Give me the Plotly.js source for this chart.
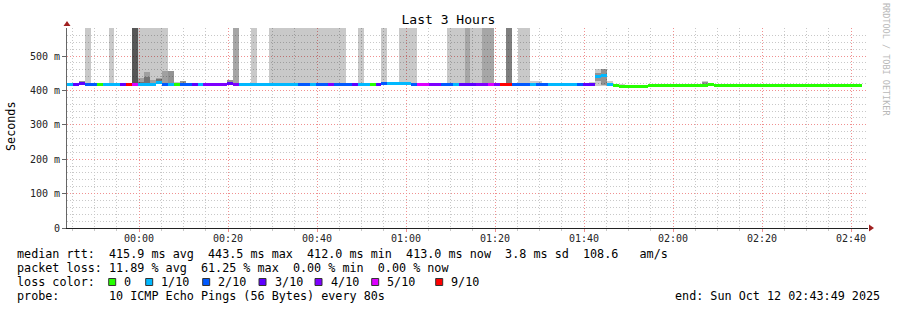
<!DOCTYPE html>
<html><head><meta charset="utf-8">
<script src="https://cdn.plot.ly/plotly-3.0.1.min.js"></script>
<style>html,body{margin:0;padding:0;background:#fff}#chart{width:897px;height:310px}</style>
</head><body><div id="chart"></div>
<script>
// ---------------- DATA ----------------
const chartTitle = 'Last 3 Hours';
const yTitle = 'Seconds';
const watermark = 'RRDTOOL / TOBI OETIKER';
const rangeStart = '2025-10-11 23:43:49';
const rangeEnd = '2025-10-12 02:43:49';
const startMs = Date.UTC(2025, 9, 11, 23, 43, 49);
const stepSec = 80;

// median rtt per 80 s sample, in ms
const median = [
  418,418,421,418,418,418,418,418,418,418,
  418,418,418,418,418,424,418,418,418,418,
  418,418,418,418,418,418,418,421,418,418,
  418,418,418,418,418,418,418,418,418,418,
  418,418,418,418,418,418,418,418,418,418,
  418,418,418,419,419,419,419,419,418,418,
  418,418,418,418,418,418,418,418,418,418,
  418,418,418,418,418,418,418,418,418,418,
  418,418,418,418,418,418,416,416,416,441,
  443.5,418,414,412,412,412,412,412,413,413,
  413,413,413,413,413,413,413,414,416,413,
  413,413,413,413,413,413,413,413,413,413,
  413,413,413,413,413,413,413,413,413,413,
  413,413,413,413
];
// lost pings (out of 10) per sample
const lossCount = [
  1,3,3,2,2,0,1,1,1,3,
  9,5,1,1,1,1,2,1,0,2,
  2,3,1,4,4,4,4,3,4,1,
  1,1,1,1,1,1,1,1,1,2,
  2,1,2,2,4,2,2,2,3,1,
  1,0,3,2,1,1,1,1,2,5,
  5,4,4,2,2,1,3,3,3,4,
  4,5,4,9,9,2,2,2,1,2,
  2,1,1,1,1,1,2,3,3,1,
  1,1,0,0,0,0,0,0,0,0,
  0,0,0,0,0,0,0,0,0,0,
  0,0,0,0,0,0,0,0,0,0,
  0,0,0,0,0,0,0,0,0,0,
  0,0,0,0
];
// unreachable-ping smoke (full height) density per sample: 0 none .. 4 darkest
const fullSmoke = [
  0,0,0,1,0,0,0,1,0,0,
  0,4,1,1,1,1,1,0,0,0,
  0,0,0,0,0,0,0,0,2,0,
  0,1,0,0,1,1,1,1,1,1,
  1,1,1,1,1,1,1,0,0,1,
  0,0,0,1,0,0,1,1,1,0,
  0,0,0,0,1,1,1,2,1,1,
  2,2,0,0,3,0,1,1,0,0,
  0,0,0,0,0,0,0,0,0,0,
  0,0,0,0,0,0,0,0,0,0,
  0,0,0,0,0,0,0,0,0,0,
  0,0,0,0,0,0,0,0,0,0,
  0,0,0,0,0,0,0,0,0,0,
  0,0,0,0
];
// ping spread (smoke) around the median, for samples that have it
const smokeSample = [2,12,13,14,15,16,17,18,19,26,27,78,79,88,89,90,91,92,93,107,108];
const smokeLow    = [421,418,418,418,424,418,418,418,418,418,421,418,418,416,414,414,418,414,412,414,416];
const smokeHigh   = [428,437,454,430,436,457,457,424,428,422,430,428,428,424,461,463,428,420,418,428,420];
const coreLow     = [421,418,418,null,424,null,418,null,418,null,421,null,null,null,428,416,null,null,null,414,null];
const coreHigh    = [428,425,440,null,432,null,457,null,428,null,430,null,null,null,452,463,null,null,null,424,null];

const yTickVals = [0,100,200,300,400,500];
const yTickText = ['0','100 m','200 m','300 m','400 m','500 m'];

const lossKeys   = [0,1,2,3,4,5,9];
const lossLabels = ['0','1/10','2/10','3/10','4/10','5/10','9/10'];
const lossColors = ['#26ff00','#00b8ff','#0059ff','#5e00ff','#7e00ff','#dd00ff','#ff0000'];

const statsMedian = 'median rtt:  415.9 ms avg  443.5 ms max  412.0 ms min  413.0 ms now  3.8 ms sd  108.6   am/s';
const statsLoss   = 'packet loss: 11.89 % avg  61.25 % max  0.00 % min  0.00 % now';
const lossTitle   = 'loss color:';
const probeLine   = 'probe:       10 ICMP Echo Pings (56 Bytes) every 80s';
const endLine     = 'end: Sun Oct 12 02:43:49 2025';

// ---------------- LAYOUT CONSTANTS ----------------
const W = 897, H = 310;
const ML = 67, MR = 29, MT = 28, MB = 82;
const PW = W - ML - MR, PH = H - MT - MB;
const yMax = 581.4;
const FONT = 'DejaVu Sans Mono, monospace';
const px2x = px => (px - ML) / PW;
const py2y = py => (MT + PH - py) / PH;
const msPerPx = yMax / PH;
const halfLine = 1.5 * msPerPx;

const stepMs = stepSec * 1000;
const xs = median.map((_, k) => startMs + (k + 0.5) * stepMs);

function lossColor(l) {
  let c = lossColors[0];
  lossKeys.forEach((key, i) => { if (l >= key) c = lossColors[i]; });
  return c;
}
const fullAlpha = [0, 0.21, 0.35, 0.5, 0.66];

const traces = [];
// full-height smoke
traces.push({
  type: 'bar', x: xs, width: xs.map(() => stepMs),
  base: median.map((m, k) => fullSmoke[k] ? m + halfLine : null),
  y: median.map((m, k) => fullSmoke[k] ? 1000 - m - halfLine : null),
  marker: { color: fullSmoke.map(l => 'rgba(0,0,0,' + fullAlpha[l] + ')'), line: { width: 0 } },
  hoverinfo: 'skip'
});
// smoke around median
traces.push({
  type: 'bar', x: smokeSample.map(k => xs[k]), width: smokeSample.map(() => stepMs),
  base: smokeLow, y: smokeHigh.map((h, i) => h - smokeLow[i]),
  marker: { color: 'rgba(0,0,0,0.2)', line: { width: 0 } }, hoverinfo: 'skip'
});
traces.push({
  type: 'bar', x: smokeSample.map(k => xs[k]), width: smokeSample.map(() => stepMs),
  base: coreLow, y: coreHigh.map((h, i) => h == null ? null : h - coreLow[i]),
  marker: { color: 'rgba(0,0,0,0.28)', line: { width: 0 } }, hoverinfo: 'skip'
});
// median line coloured by loss
traces.push({
  type: 'bar', x: xs, width: xs.map(() => stepMs),
  base: median.map(m => m - halfLine), y: median.map(() => 2 * halfLine),
  marker: { color: lossCount.map(lossColor), line: { width: 0 } }, hoverinfo: 'skip'
});

const annotations = [];
const shapes = [];
const txt = s => s.replace(/ /g, '\u00a0');
function addText(s, px, py, opts) {
  annotations.push(Object.assign({
    text: txt(s), xref: 'paper', yref: 'paper', x: px2x(px), y: py2y(py),
    xanchor: 'left', yanchor: 'middle', showarrow: false, borderpad: 0,
    font: { family: FONT, size: 11.75, color: '#000' }
  }, opts || {}));
}
addText(statsMedian, 16, 254);
addText(statsLoss, 16, 268);
addText(lossTitle, 16, 282);
addText(probeLine, 16, 296);
addText(endLine, 881, 296, { xanchor: 'right' });
addText(yTitle, 11, 126, { xanchor: 'center', textangle: -90 });
addText(watermark, 886, 59, { xanchor: 'center', textangle: 90, font: { family: FONT, size: 8.5, color: '#b8b8b8' } });

const legendBoxX = [108.7, 145.7, 202.7, 259, 315, 371.7, 435.7];
lossLabels.forEach((lab, i) => {
  const bx = legendBoxX[i];
  shapes.push({ type: 'rect', xref: 'paper', yref: 'paper',
    x0: px2x(bx), x1: px2x(bx + 7), y0: py2y(285.5), y1: py2y(278.5),
    fillcolor: lossColors[i], line: { color: '#333', width: 1 } });
  addText(lab, bx + 14.5, 282);
});

// axis arrows
shapes.push({ type: 'path', xref: 'paper', yref: 'paper', xsizemode: 'pixel', ysizemode: 'pixel',
  xanchor: 0, yanchor: 1, path: 'M -3.5,2 L 3.5,2 L 0,7 Z', fillcolor: '#a02020', line: { width: 0 } });
shapes.push({ type: 'path', xref: 'paper', yref: 'paper', xsizemode: 'pixel', ysizemode: 'pixel',
  xanchor: 1, yanchor: 0, path: 'M 1,-3.5 L 1,3.5 L 6,0 Z', fillcolor: '#a02020', line: { width: 0 } });

const layout = {
  width: W, height: H,
  margin: { l: ML, r: MR, t: MT, b: MB, pad: 0 },
  paper_bgcolor: '#fff', plot_bgcolor: '#fff',
  showlegend: false, barmode: 'overlay', bargap: 0,
  title: { text: chartTitle, font: { family: FONT, size: 13, color: '#000' },
    x: 0.5, xref: 'container', xanchor: 'center', y: 1 - 19 / H, yref: 'container', yanchor: 'middle' },
  xaxis: {
    type: 'date', range: [rangeStart, rangeEnd], tick0: '2025-10-12 00:00:00', dtick: 1200000,
    tickformat: '%H:%M', showgrid: true, gridcolor: '#f09090', griddash: '1px,2px', gridwidth: 1,
    ticks: 'outside', ticklen: 3, tickcolor: '#f09090', ticklabelstandoff: -2,
    showline: true, linecolor: '#222', linewidth: 1, zeroline: false,
    tickfont: { family: FONT, size: 10, color: '#222' },
    minor: { tick0: '2025-10-12 00:00:00', dtick: 300000, showgrid: true, gridcolor: '#c8c8c8', griddash: '1px,2px',
      ticks: 'outside', ticklen: 2, tickcolor: '#c8c8c8' },
    fixedrange: true
  },
  yaxis: {
    range: [0, yMax], tickmode: 'array', tickvals: yTickVals, ticktext: yTickText,
    showgrid: true, gridcolor: '#f09090', griddash: '1px,2px', gridwidth: 1,
    ticks: 'outside', ticklen: 4, tickcolor: '#666',
    showline: true, linecolor: '#666', linewidth: 1, zeroline: false,
    tickfont: { family: FONT, size: 10, color: '#222' },
    minor: { tick0: 0, dtick: 20, showgrid: true, gridcolor: '#c8c8c8', griddash: '1px,2px' },
    fixedrange: true
  },
  annotations: annotations, shapes: shapes
};
Plotly.newPlot('chart', traces, layout, { staticPlot: true, displayModeBar: false });
</script></body></html>
